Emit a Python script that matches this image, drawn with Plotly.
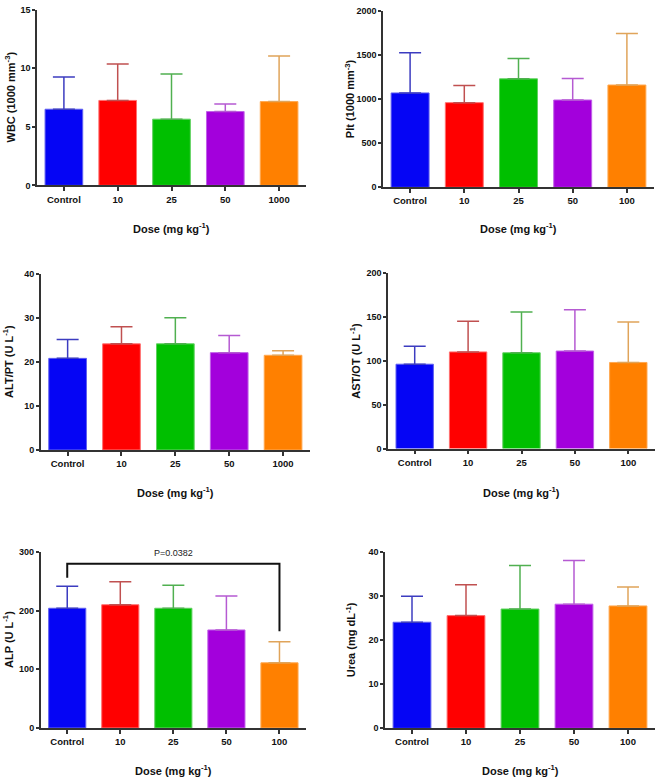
import plotly.graph_objects as go

W, H = 658, 783

cats_a = ["Control", "10", "25", "50", "1000"]
cats_b = ["Control", "10", "25", "50", "100"]

wbc_mean = [6.5, 7.25, 5.65, 6.3, 7.15]
wbc_sd = [2.75, 3.1, 3.85, 0.65, 3.9]
plt_mean = [1070, 960, 1230, 990, 1160]
plt_sd = [455, 195, 230, 245, 585]
alt_mean = [20.8, 24.1, 24.1, 22.1, 21.5]
alt_sd = [4.3, 3.9, 5.9, 3.9, 1.0]
ast_mean = [96, 110, 109, 111, 98]
ast_sd = [20.5, 35, 46.5, 47, 46]
alp_mean = [204, 210, 204, 167, 111]
alp_sd = [37.5, 39, 39, 58, 36]
urea_mean = [24.1, 25.6, 27.1, 28.2, 27.8]
urea_sd = [5.9, 7.0, 9.9, 9.9, 4.3]

# significance bracket for ALP (Control vs 100)
alp_bracket_x = ["Control", "Control", "100", "100"]
alp_bracket_y = [256, 280, 280, 165]
alp_p_label = "P=0.0382"
alp_p_y = 298

bar_colors = ["#0505f5", "#ff0000", "#00bf00", "#a300dc", "#ff8000"]
edge_colors = ["#6060f0", "#ff7070", "#60d060", "#c060e8", "#ffa850"]
err_colors = ["#3c3cc0", "#c05050", "#50b050", "#b55ad2", "#e0a45a"]

# panel definitions
panels = [
    (cats_a, wbc_mean, wbc_sd, 15, 5, "WBC (1000 mm<sup>-3</sup>)", [37, 306, 4.7, 182.7], 10, 226),
    (cats_b, plt_mean, plt_sd, 2000, 500, "Plt (1000 mm<sup>-3</sup>)", [383, 654, 6, 184.7], 350, 226),
    (cats_a, alt_mean, alt_sd, 40, 10, "ALT/PT (U L<sup>-1</sup>)", [40.7, 310, 272.3, 450.7], 8, 493),
    (cats_b, ast_mean, ast_sd, 200, 50, "AST/OT (U L<sup>-1</sup>)", [388, 655, 271.3, 449.3], 355, 493),
    (cats_b, alp_mean, alp_sd, 300, 100, "ALP (U L<sup>-1</sup>)", [40.7, 306, 554, 732.3], 8, 775),
    (cats_b, urea_mean, urea_sd, 40, 10, "Urea (mg dL<sup>-1</sup>)", [385, 655, 554.3, 732.7], 351, 775),
]

fig = go.Figure()
font_family = "Liberation Sans, Arial, sans-serif"
annotations = []

for i, (cats, mean, sd, ymax, dtick, ytitle, box, ytx, xty) in enumerate(panels):
    n = "" if i == 0 else str(i + 1)
    xa, ya = "x" + n, "y" + n
    x0, x1, yt, yb = box
    for j in range(len(cats)):
        fig.add_trace(go.Bar(
            x=[cats[j]], y=[mean[j]], xaxis=xa, yaxis=ya,
            marker=dict(color=bar_colors[j], line=dict(color=edge_colors[j], width=1)),
            error_y=dict(type="data", array=[sd[j]], arrayminus=[0], symmetric=False,
                         color=err_colors[j], thickness=1.5, width=11),
            width=0.7, showlegend=False, hoverinfo="skip",
        ))
    fig.layout["xaxis" + n] = dict(
        domain=[x0 / W, x1 / W], anchor=ya, type="category",
        categoryorder="array", categoryarray=cats, range=[-0.5, 4.5],
        showline=True, linecolor="#333333", linewidth=1.5,
        ticks="outside", ticklen=4, tickcolor="#333333", tickwidth=1.5,
        tickfont=dict(family=font_family, size=9.5, color="#111111", weight="bold"),
        showgrid=False, zeroline=False, fixedrange=True,
    )
    fig.layout["yaxis" + n] = dict(
        domain=[1 - yb / H, 1 - yt / H], anchor=xa, range=[0, ymax],
        tick0=0, dtick=dtick,
        showline=True, linecolor="#333333", linewidth=1.5,
        ticks="outside", ticklen=3, tickcolor="#333333", tickwidth=1.5,
        tickfont=dict(family=font_family, size=9, color="#111111", weight="bold"),
        showgrid=False, zeroline=False, fixedrange=True,
    )
    annotations.append(dict(
        text=ytitle, textangle=-90, xref="paper", yref="paper",
        x=ytx / W, y=1 - ((yt + yb) / 2) / H, xanchor="center", yanchor="middle",
        showarrow=False, font=dict(family=font_family, size=11, color="#111111", weight="bold"),
    ))
    annotations.append(dict(
        text="Dose (mg kg<sup>-1</sup>)", xref="paper", yref="paper",
        x=((x0 + x1) / 2) / W, y=1 - xty / H, xanchor="center", yanchor="middle",
        showarrow=False, font=dict(family=font_family, size=11, color="#111111", weight="bold"),
    ))

# bracket on ALP panel
fig.add_trace(go.Scatter(
    x=alp_bracket_x, y=alp_bracket_y, xaxis="x5", yaxis="y5", mode="lines",
    line=dict(color="#111111", width=2), showlegend=False, hoverinfo="skip",
))
annotations.append(dict(
    text=alp_p_label, xref="x5", yref="y5", x=2, y=alp_p_y,
    xanchor="center", yanchor="middle", showarrow=False,
    font=dict(family=font_family, size=9, color="#222222"),
))

fig.update_layout(
    width=W, height=H, margin=dict(l=0, r=0, t=0, b=0),
    paper_bgcolor="white", plot_bgcolor="white",
    barmode="overlay", annotations=annotations,
)

fig.write_html(
    "out.html",
    config={"displayModeBar": False},
    post_script="document.body.style.margin='0';document.body.style.overflow='hidden';",
)
